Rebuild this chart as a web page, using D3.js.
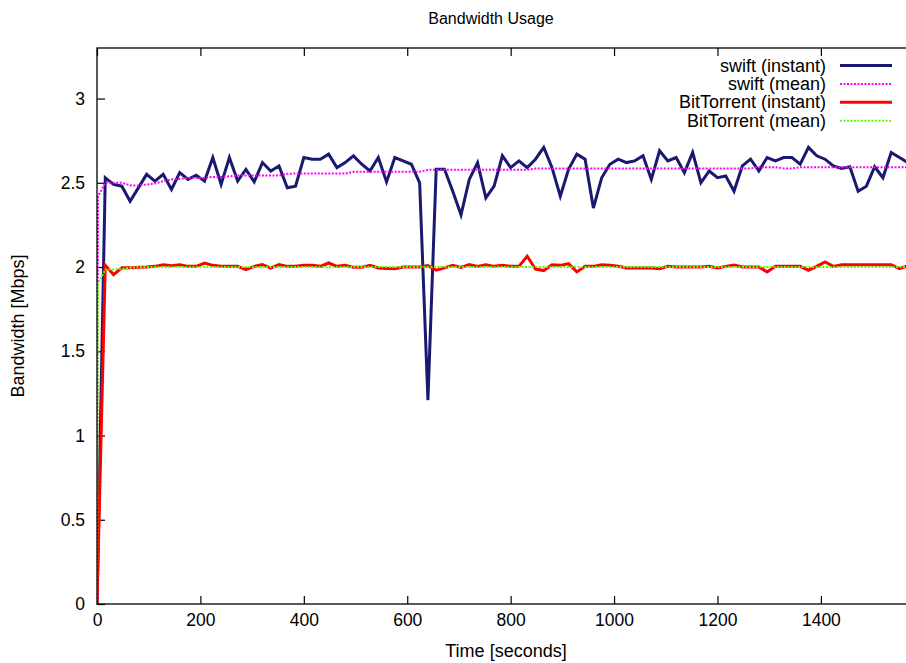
<!DOCTYPE html>
<html>
<head>
<meta charset="utf-8">
<script src="https://cdn.jsdelivr.net/npm/d3@7"></script>
<style>
  body { margin: 0; background: white; }
  svg { display: block; font-family: "Liberation Sans", Arial, sans-serif; }
</style>
</head>
<body>
<div id="chart"></div>
<script>
const width = 906
const height = 663
const plot = { left: 97, right: 915, top: 48, bottom: 604 }
const step = 16

// samples every 16 seconds, index 0 = t 0
const swiftInstant = [
  0, 2.53, 2.49, 2.48, 2.39, 2.47, 2.55, 2.51, 2.55, 2.46,
  2.56, 2.52, 2.545, 2.51, 2.65, 2.49, 2.65, 2.51, 2.58, 2.505,
  2.62, 2.57, 2.60, 2.47, 2.48, 2.65, 2.64, 2.64, 2.67, 2.59,
  2.62, 2.66, 2.61, 2.57, 2.65, 2.505, 2.65, 2.63, 2.61, 2.50,
  1.21, 2.58, 2.58, 2.45, 2.31, 2.52, 2.62, 2.41, 2.48, 2.66,
  2.59, 2.63, 2.59, 2.64, 2.71, 2.59, 2.42, 2.58, 2.67, 2.64,
  2.35, 2.53, 2.61, 2.64, 2.62, 2.63, 2.66, 2.52, 2.69, 2.63,
  2.65, 2.56, 2.68, 2.50, 2.57, 2.53, 2.54, 2.45, 2.60, 2.64,
  2.57, 2.65, 2.63, 2.65, 2.65, 2.61, 2.71, 2.66, 2.64, 2.60,
  2.585, 2.595, 2.45, 2.48, 2.595, 2.53, 2.68, 2.65, 2.62
]
const btInstant = [
  0, 2.01, 1.955, 1.995, 1.995, 1.998, 2.0, 2.004, 2.014, 2.008,
  2.014, 2.004, 2.004, 2.024, 2.01, 2.004, 2.004, 2.004, 1.985, 2.004,
  2.014, 1.994, 2.014, 2.004, 2.004, 2.01, 2.01, 2.004, 2.024, 2.004,
  2.01, 1.998, 1.998, 2.01, 1.994, 1.992, 1.99, 2.0, 2.0, 2.0,
  2.008, 1.981, 1.995, 2.01, 1.998, 2.014, 2.004, 2.014, 2.004, 2.01,
  2.004, 2.004, 2.064, 1.988, 1.979, 2.014, 2.01, 2.02, 1.971, 2.004,
  2.004, 2.014, 2.01, 2.004, 1.994, 1.994, 1.994, 1.994, 1.99, 2.004,
  2.0, 2.0, 2.0, 2.0, 2.004, 1.994, 2.004, 2.012, 2.0, 2.0,
  2.0, 1.971, 2.004, 2.004, 2.004, 2.004, 1.981, 2.004, 2.03, 2.004,
  2.014, 2.014, 2.014, 2.014, 2.014, 2.014, 2.014, 1.99, 2.008
]

// mean series: t 0, t 2, then every 16 seconds
const meanTimes = [0, 2].concat(btInstant.slice(1).map((_d, i) => (i + 1) * step))
const swiftMean = [
  0, 2.42,
  2.50, 2.50, 2.50, 2.485, 2.483, 2.49, 2.495, 2.51, 2.52, 2.523,
  2.529, 2.529, 2.529, 2.535, 2.535, 2.539, 2.543, 2.543, 2.543, 2.543,
  2.543, 2.543, 2.553, 2.555, 2.555, 2.555, 2.555, 2.555, 2.555, 2.555,
  2.565, 2.565, 2.565, 2.565, 2.565, 2.565, 2.565, 2.565, 2.565, 2.577,
  2.577, 2.577, 2.577, 2.577, 2.577, 2.577, 2.577, 2.577, 2.577, 2.577,
  2.577, 2.577, 2.585, 2.585, 2.585, 2.585, 2.585, 2.585, 2.585, 2.585,
  2.585, 2.585, 2.585, 2.585, 2.585, 2.585, 2.585, 2.585, 2.585, 2.585,
  2.585, 2.585, 2.585, 2.585, 2.585, 2.585, 2.585, 2.585, 2.585, 2.592,
  2.592, 2.592, 2.585, 2.585, 2.592, 2.592, 2.592, 2.592, 2.592, 2.592,
  2.592, 2.592, 2.592, 2.592, 2.592, 2.592, 2.592, 2.592
]
const btMean = [
  0, 1.90,
  1.985, 1.985, 1.99, 1.995, 2.0, 2.0, 2.0, 2.0, 2.0, 2.0,
  2.0, 2.0, 2.0, 2.0, 2.0, 2.0, 2.0, 2.0, 2.0, 2.0,
  2.0, 2.0, 2.0, 2.0, 2.0, 2.0, 2.0, 2.0, 2.0, 2.0,
  2.0, 2.0, 2.0, 2.0, 2.0, 2.0, 2.0, 2.0, 2.0, 2.0,
  2.0, 2.0, 2.0, 2.0, 2.0, 2.0, 2.0, 2.0, 2.0, 2.0,
  2.0, 2.0, 2.0, 2.0, 2.0, 2.0, 2.0, 2.0, 2.0, 2.0,
  2.0, 2.0, 2.0, 2.0, 2.0, 2.0, 2.0, 2.0, 2.0, 2.0,
  2.0, 2.0, 2.0, 2.0, 2.0, 2.0, 2.0, 2.0, 2.0, 2.0,
  2.0, 2.0, 2.0, 2.0, 2.0, 2.0, 2.0, 2.0, 2.0, 2.0,
  2.0, 2.0, 2.0, 2.0, 2.0, 2.0, 2.0, 2.0
]

const xTicks = [0, 200, 400, 600, 800, 1000, 1200, 1400]
const yTicks = [0, 0.5, 1, 1.5, 2, 2.5, 3]
const yTickLabels = ["0", "0.5", "1", "1.5", "2", "2.5", "3"]

const series = [
  { name: "swift (instant)", times: swiftInstant.map((_d, i) => i * step), values: swiftInstant, color: "#191970", width: 3, dash: null },
  { name: "swift (mean)", times: meanTimes, values: swiftMean, color: "#ff00ff", width: 2, dash: "2,1.5" },
  { name: "BitTorrent (instant)", times: btInstant.map((_d, i) => i * step), values: btInstant, color: "#ff0000", width: 3, dash: null },
  { name: "BitTorrent (mean)", times: meanTimes, values: btMean, color: "#55ff00", width: 2, dash: "2,1.5" },
]

var xScale = d3.scaleLinear([0, 1582], [plot.left, plot.right])
var yScale = d3.scaleLinear([0, 3.3], [plot.bottom, plot.top])

var svg = d3.select("#chart").append("svg")
  .attr("width", width)
  .attr("height", height)

svg.append("clipPath").attr("id", "clip")
  .append("rect")
  .attr("x", plot.left).attr("y", plot.top)
  .attr("width", plot.right - plot.left)
  .attr("height", plot.bottom - plot.top)

// axes, ticks pointing inward like gnuplot
const axisText = (g) => g.selectAll("text").style("font-size", "17.5px").attr("fill", "#000")
const noDomain = (g) => g.select(".domain").remove()

svg.append("g")
  .attr("transform", `translate(0,${plot.bottom})`)
  .call(d3.axisBottom(xScale).tickValues(xTicks).tickSize(-8).tickPadding(10).tickFormat(d3.format("d")))
  .call(noDomain).call(axisText)

svg.append("g")
  .attr("transform", `translate(0,${plot.top})`)
  .call(d3.axisTop(xScale).tickValues(xTicks).tickSize(-8).tickFormat(""))
  .call(noDomain)

svg.append("g")
  .attr("transform", `translate(${plot.left},0)`)
  .call(d3.axisLeft(yScale).tickValues(yTicks).tickSize(-8).tickPadding(12).tickFormat((_d, i) => yTickLabels[i]))
  .call(noDomain).call(axisText)

svg.append("g")
  .attr("transform", `translate(${plot.right},0)`)
  .call(d3.axisRight(yScale).tickValues(yTicks).tickSize(-8).tickFormat(""))
  .call(noDomain)

svg.selectAll(".tick line").attr("stroke", "#000").attr("stroke-width", 1.2)

// lines
var line = d3.line()
  .x((d) => xScale(d[0]))
  .y((d) => yScale(d[1]))

svg.append("g")
  .attr("clip-path", "url(#clip)")
  .selectAll("path")
  .data(series)
  .enter()
  .append("path")
  .attr("d", (s) => line(s.values.map((v, i) => [s.times[i], v])))
  .attr("fill", "none")
  .attr("stroke", (s) => s.color)
  .attr("stroke-width", (s) => s.width)
  .attr("stroke-dasharray", (s) => s.dash)
  .attr("stroke-linejoin", "miter")

// border
svg.append("rect")
  .attr("x", plot.left).attr("y", plot.top)
  .attr("width", plot.right - plot.left)
  .attr("height", plot.bottom - plot.top)
  .attr("fill", "none")
  .attr("stroke", "#000")
  .attr("stroke-width", 1.3)

// legend
var legend = svg.append("g").style("font-size", "18px")
series.forEach((s, i) => {
  const ly = 65.5 + i * 18.4
  legend.append("text")
    .attr("x", 826).attr("y", ly)
    .attr("text-anchor", "end")
    .attr("dominant-baseline", "central")
    .text(s.name)
  legend.append("line")
    .attr("x1", 840).attr("x2", 892)
    .attr("y1", ly).attr("y2", ly)
    .attr("stroke", s.color)
    .attr("stroke-width", s.width)
    .attr("stroke-dasharray", s.dash)
})

// titles
svg.append("text")
  .attr("x", 491).attr("y", 24)
  .attr("text-anchor", "middle")
  .style("font-size", "16px")
  .text("Bandwidth Usage")

svg.append("text")
  .attr("x", 506).attr("y", 657)
  .attr("text-anchor", "middle")
  .style("font-size", "18px")
  .text("Time [seconds]")

svg.append("text")
  .attr("transform", "translate(24,326) rotate(-90)")
  .attr("text-anchor", "middle")
  .style("font-size", "18px")
  .text("Bandwidth [Mbps]")
</script>
</body>
</html>
